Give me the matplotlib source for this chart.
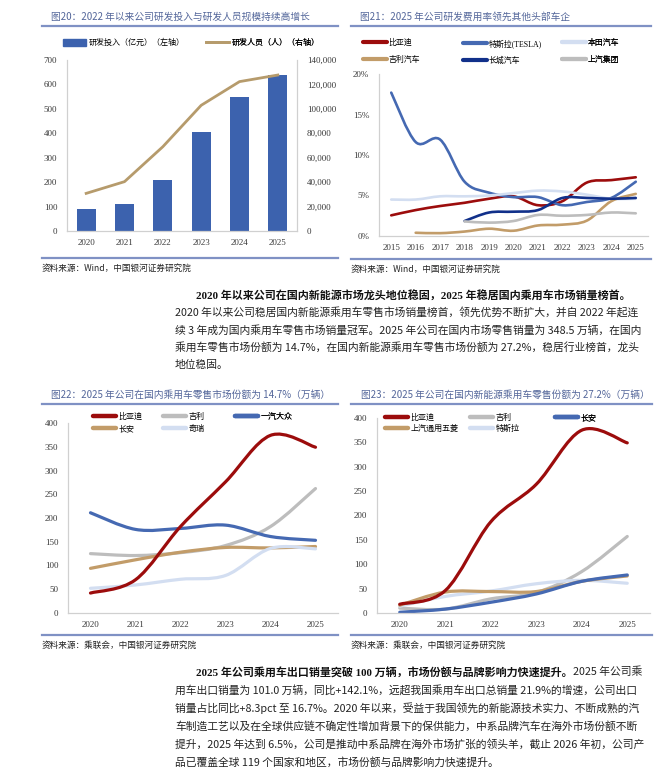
import numpy as np
import matplotlib
matplotlib.use('Agg')
import matplotlib.pyplot as plt
from matplotlib.path import Path
from matplotlib.patches import PathPatch, Patch
from matplotlib.lines import Line2D
from matplotlib.ticker import FuncFormatter

plt.rcParams['font.family'] = ['Liberation Serif', 'Noto Sans CJK SC', 'DejaVu Sans']

# ---- data: fig 20 ----
years_a = ['2020', '2021', '2022', '2023', '2024', '2025']
rd_invest = [92, 110, 208, 405, 549, 637]            # 亿元, left axis
rd_staff = [30800, 40400, 69000, 102900, 122300, 127700]  # 人, right axis

# ---- data: fig 21 (研发费用率, %) ----
years_b = list(range(2015, 2026))
byd_rate = [2.55, 3.2, 3.7, 4.1, 4.6, 4.9, 3.8, 4.3, 6.6, 6.9, 7.25]
tesla_rate = [17.7, 11.6, 11.9, 6.7, 5.35, 4.8, 4.8, 3.8, 4.2, 4.7, 6.7]
honda_rate = [4.5, 4.5, 4.9, 4.9, 5.0, 5.3, 5.6, 5.5, 5.1, 4.6, 4.6]
geely_rate = [np.nan, 0.4, 0.35, 0.55, 0.9, 0.65, 1.3, 1.4, 1.9, 4.3, 5.2]
gwm_rate = [np.nan, np.nan, np.nan, 1.85, 2.9, 3.0, 3.2, 4.7, 4.7, 4.6, 4.7]
saic_rate = [np.nan, np.nan, np.nan, 1.8, 1.65, 1.85, 2.6, 2.5, 2.6, 2.9, 2.8]

# ---- data: fig 22 (乘用车零售, 万辆) ----
years_c = list(range(2020, 2026))
byd_sales = [42, 70, 182, 276, 374, 349]
geely_sales = [125, 121, 127, 142, 182, 262]
fawvw_sales = [211, 176, 178, 185, 161, 153]
changan_sales = [94, 112, 128, 138, 137, 140]
chery_sales = [52, 59, 71, 79, 136, 135]

# ---- data: fig 23 (新能源乘用车零售, 万辆) ----
byd_nev = [18, 46, 187, 264, 375, 349]
geely_nev = [10, 8, 29, 42, 85, 157]
changan_nev = [1.5, 8, 22, 39, 65, 78]
sgmw_nev = [16, 43, 44, 44, 65, 76]
tesla_nev = [14, 34, 45, 60, 67, 61]

RED = '#9c0c0c'
BLUE = '#4569b2'
LIGHT = '#d3def1'
TAN = '#c29c69'
NAVY = '#11308a'
GRAY = '#bdbdbd'
TITLE_C = '#53669a'
RULE_C = '#7f91c4'
SPINE_C = '#d0d0d0'
TICK_C = '#3a3a3a'

W, H = 668, 778
fig = plt.figure(figsize=(W / 100, H / 100), dpi=100)
fig.patch.set_facecolor('white')
bg = fig.add_axes([0, 0, 1, 1])
bg.set_xlim(0, W)
bg.set_ylim(H, 0)
bg.axis('off')

CJK = ['Noto Sans CJK SC', 'DejaVu Sans']


def rect(l, t, r, b):
    return [l / W, 1 - b / H, (r - l) / W, (b - t) / H]


def smooth(ax, xs, ys, color, lw=2.0, z=2):
    # excel-style smoothed line: cubic bezier through the yearly values
    xs = np.asarray(xs, float)
    ys = np.asarray(ys, float)
    ok = ~np.isnan(ys)
    pts = np.column_stack([xs[ok], ys[ok]])
    n = len(pts)
    verts = [pts[0]]
    codes = [Path.MOVETO]
    for i in range(n - 1):
        p0 = pts[i - 1] if i > 0 else pts[i]
        p1, p2 = pts[i], pts[i + 1]
        p3 = pts[i + 2] if i + 2 < n else pts[i + 1]
        verts += [p1 + (p2 - p0) / 6, p2 - (p3 - p1) / 6, p2]
        codes += [Path.CURVE4] * 3
    ax.add_patch(PathPatch(Path(verts, codes), fill=False, edgecolor=color,
                           lw=lw, capstyle='round', joinstyle='round', zorder=z))


def frame(title, x0, x1, t_y, rule_y, bot_y, src, tx):
    bg.text(tx, t_y, title, fontsize=7, color=TITLE_C, va='center', ha='left', family=CJK)
    bg.plot([x0, x1], [rule_y, rule_y], color=RULE_C, lw=1.6)
    bg.plot([x0, x1], [bot_y, bot_y], color=RULE_C, lw=1.6)
    bg.text(x0, bot_y + 10, src, fontsize=6.2, color='#222222', va='center', ha='left', family=CJK)


def style(ax):
    for s in ['top', 'right']:
        ax.spines[s].set_visible(False)
    for s in ['left', 'bottom']:
        ax.spines[s].set_color(SPINE_C)
        ax.spines[s].set_linewidth(0.9)
    ax.tick_params(length=0, labelsize=6.5, colors=TICK_C)
    ax.tick_params(axis='y', pad=7)
    ax.tick_params(axis='x', pad=6)
    ax.set_facecolor('none')


def col_legend(ax, handles, labels, x, y, fs, sp, hl=3.0):
    leg = ax.legend(handles, labels, loc='upper left', bbox_to_anchor=(x / W, 1 - y / H),
                    bbox_transform=fig.transFigure, frameon=False, fontsize=fs,
                    handlelength=hl, handletextpad=0.25, borderpad=0, borderaxespad=0,
                    labelspacing=sp, handleheight=0.9)
    ax.add_artist(leg)


src_wind = '资料来源：Wind，中国银河证券研究院'
src_cpca = '资料来源：乘联会，中国银河证券研究院'

# ================= fig 20 =================
frame('图20：2022 年以来公司研发投入与研发人员规模持续高增长', 42, 338, 17, 26, 258, src_wind, 51)
ax1 = fig.add_axes(rect(67, 60, 297, 231))
style(ax1)
xa = np.arange(len(years_a))
ax1.bar(xa, rd_invest, width=0.5, color='#3c62ae', zorder=2)
ax1.set_xlim(-0.5, 5.5)
ax1.set_ylim(0, 700)
ax1.set_yticks(range(0, 701, 100))
ax1.set_xticks(xa, years_a)
ax1r = ax1.twinx()
ax1r.plot(xa, rd_staff, color='#b69b6c', lw=2, zorder=3)
ax1r.set_ylim(0, 140000)
ax1r.set_yticks(range(0, 140001, 20000))
ax1r.yaxis.set_major_formatter(FuncFormatter(lambda v, p: f'{int(v):,}'))
for s in ['top', 'left', 'bottom']:
    ax1r.spines[s].set_visible(False)
ax1r.spines['right'].set_color(SPINE_C)
ax1r.spines['right'].set_linewidth(0.9)
ax1r.tick_params(length=0, labelsize=6.5, colors=TICK_C, pad=7)
col_legend(ax1, [Patch(color='#3c62ae')], ['研发投入（亿元）（左轴）'], 63, 39, 5.8, 1.0, 2.9)
col_legend(ax1, [Line2D([], [], color='#b69b6c', lw=2)], ['研发人员（人）（右轴）'], 206, 39, 5.8, 1.0, 2.9)

# ================= fig 21 =================
frame('图21：2025 年公司研发费用率领先其他头部车企', 351, 651, 17, 26, 259, src_wind, 360)
ax2 = fig.add_axes(rect(379, 74, 648, 236))
style(ax2)
ax2.set_xlim(2014.5, 2025.5)
ax2.set_ylim(0, 20)
ax2.set_yticks(range(0, 21, 5))
ax2.yaxis.set_major_formatter(FuncFormatter(lambda v, p: f'{v:.0f}%'))
ax2.set_xticks(years_b)
series_b = [(byd_rate, RED, '比亚迪'), (tesla_rate, BLUE, '特斯拉(TESLA)'),
            (honda_rate, LIGHT, '本田汽车'), (geely_rate, TAN, '吉利汽车'),
            (gwm_rate, NAVY, '长城汽车'), (saic_rate, GRAY, '上汽集团')]
for k, (vals, c, name) in enumerate(series_b):
    smooth(ax2, years_b, vals, c, lw=1.9, z=2 + k * 0.1)
hb = {name: Line2D([], [], color=c, lw=3, solid_capstyle='round') for _, c, name in series_b}
col_legend(ax2, [hb['比亚迪'], hb['吉利汽车']], ['比亚迪', '吉利汽车'], 363, 39, 5.7, 1.1)
col_legend(ax2, [hb['特斯拉(TESLA)'], hb['长城汽车']], ['特斯拉(TESLA)', '长城汽车'], 463, 39, 5.7, 1.1)
col_legend(ax2, [hb['本田汽车'], hb['上汽集团']], ['本田汽车', '上汽集团'], 562, 39, 5.7, 1.1)

# ================= fig 22 =================
frame('图22：2025 年公司在国内乘用车零售市场份额为 14.7%（万辆）', 42, 338, 395, 404, 635, src_cpca, 51)
ax3 = fig.add_axes(rect(68, 423, 338, 613))
style(ax3)
ax3.set_xlim(2019.5, 2025.5)
ax3.set_ylim(0, 400)
ax3.set_yticks(range(0, 401, 50))
ax3.set_xticks(years_c)
series_c = [(geely_sales, GRAY, '吉利'), (fawvw_sales, BLUE, '一汽大众'),
            (changan_sales, TAN, '长安'), (chery_sales, LIGHT, '奇瑞'),
            (byd_sales, RED, '比亚迪')]
for k, (vals, c, name) in enumerate(series_c):
    smooth(ax3, years_c, vals, c, lw=2.3, z=2 + k * 0.1)
hc = {name: Line2D([], [], color=c, lw=3.2, solid_capstyle='round') for _, c, name in series_c}
col_legend(ax3, [hc['比亚迪'], hc['长安']], ['比亚迪', '长安'], 93, 413, 5.8, 0.45, 2.9)
col_legend(ax3, [hc['吉利'], hc['奇瑞']], ['吉利', '奇瑞'], 163, 413, 5.8, 0.45, 2.9)
col_legend(ax3, [hc['一汽大众']], ['一汽大众'], 235, 413, 5.8, 0.45, 2.9)

# ================= fig 23 =================
frame('图23：2025 年公司在国内新能源乘用车零售份额为 27.2%（万辆）', 351, 652, 395, 404, 635, src_cpca, 361)
ax4 = fig.add_axes(rect(377, 418, 650, 613))
style(ax4)
ax4.set_xlim(2019.5, 2025.5)
ax4.set_ylim(0, 400)
ax4.set_yticks(range(0, 401, 50))
ax4.set_xticks(years_c)
series_d = [(geely_nev, GRAY, '吉利'), (tesla_nev, LIGHT, '特斯拉'),
            (sgmw_nev, TAN, '上汽通用五菱'), (changan_nev, BLUE, '长安'),
            (byd_nev, RED, '比亚迪')]
for k, (vals, c, name) in enumerate(series_d):
    smooth(ax4, years_c, vals, c, lw=2.3, z=2 + k * 0.1)
hd = {name: Line2D([], [], color=c, lw=3.2, solid_capstyle='round') for _, c, name in series_d}
col_legend(ax4, [hd['比亚迪'], hd['上汽通用五菱']], ['比亚迪', '上汽通用五菱'], 385, 414, 5.8, 0.35, 2.9)
col_legend(ax4, [hd['吉利'], hd['特斯拉']], ['吉利', '特斯拉'], 470, 414, 5.8, 0.35, 2.9)
col_legend(ax4, [hd['长安']], ['长安'], 555, 414, 5.8, 0.35, 2.9)

# ================= body text =================
BODY = 7.75
p1_head = '2020 年以来公司在国内新能源市场龙头地位稳固，2025 年稳居国内乘用车市场销量榜首。'
p1_lines = ['2020 年以来公司稳居国内新能源乘用车零售市场销量榜首，领先优势不断扩大，并自 2022 年起连',
            '续 3 年成为国内乘用车零售市场销量冠军。2025 年公司在国内市场零售销量为 348.5 万辆，在国内',
            '乘用车零售市场份额为 14.7%，在国内新能源乘用车零售市场份额为 27.2%，稳居行业榜首，龙头',
            '地位稳固。']
p2_head = '2025 年公司乘用车出口销量突破 100 万辆，市场份额与品牌影响力快速提升。'
p2_tail = '2025 年公司乘'
p2_lines = ['用车出口销量为 101.0 万辆，同比+142.1%，远超我国乘用车出口总销量 21.9%的增速，公司出口',
            '销量占比同比+8.3pct 至 16.7%。2020 年以来，受益于我国领先的新能源技术实力、不断成熟的汽',
            '车制造工艺以及在全球供应链不确定性增加背景下的保供能力，中系品牌汽车在海外市场份额不断',
            '提升，2025 年达到 6.5%，公司是推动中系品牌在海外市场扩张的领头羊，截止 2026 年初，公司产',
            '品已覆盖全球 119 个国家和地区，市场份额与品牌影响力快速提升。']

bg.text(196, 296, p1_head, fontsize=7.95, fontweight='bold', va='center', ha='left', color='#111111')
for i, s in enumerate(p1_lines):
    bg.text(175, 313.3 + 17.3 * i, s, fontsize=BODY, va='center', ha='left', color='#222222', family=CJK)

h2 = bg.text(196, 672, p2_head, fontsize=7.95, fontweight='bold', va='center', ha='left', color='#111111')
bg.annotate(p2_tail, xy=(1, 0.5), xycoords=h2, va='center', ha='left', fontsize=BODY,
            color='#222222', family=CJK)
for i, s in enumerate(p2_lines):
    bg.text(175, 690 + 18.1 * i, s, fontsize=BODY, va='center', ha='left', color='#222222', family=CJK)

fig.savefig('out.png', dpi=100, facecolor='white')
